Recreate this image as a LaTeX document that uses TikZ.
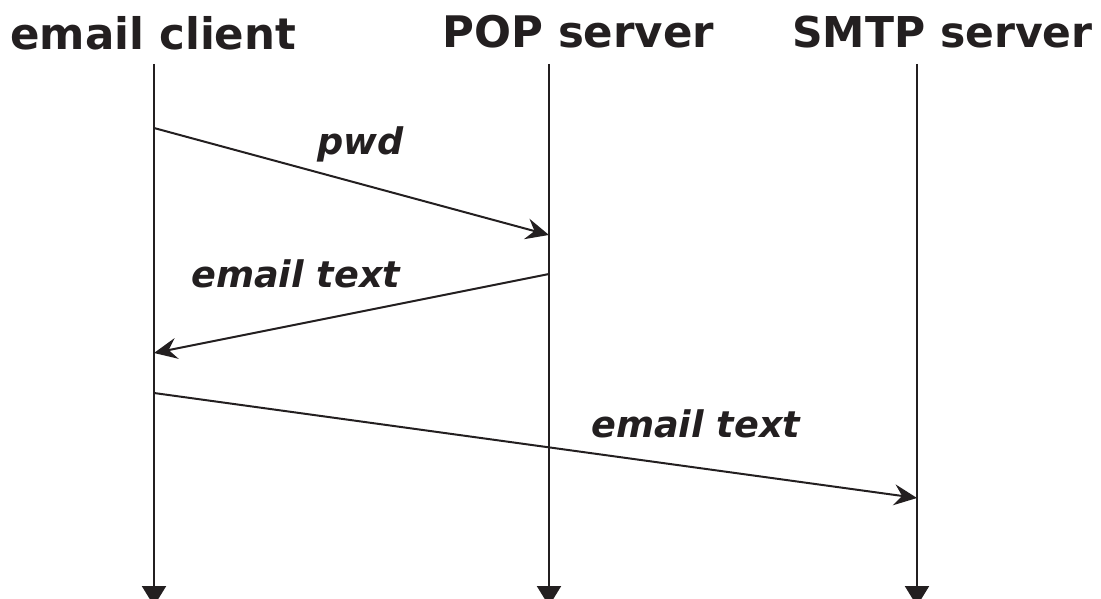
\documentclass[tikz,border=0pt]{standalone}
\usepackage{fontspec}
\setmainfont{DejaVu Sans}
\usetikzlibrary{arrows.meta}
\definecolor{ink}{HTML}{231F20}
\begin{document}
\begin{tikzpicture}[x=1pt,y=-1pt,
  title/.style={anchor=base west,inner sep=0pt,text=ink,font=\fontsize{43.5}{50}\selectfont\bfseries},
  msglabel/.style={anchor=base west,inner sep=0pt,text=ink,font=\fontsize{36.6}{42}\selectfont\bfseries\itshape},
  lifeline/.style={draw=ink,line width=2.2pt,-{Triangle[width=24pt,length=20pt]}},
  msg/.style={draw=ink,line width=2pt,-{Stealth[length=23pt,width=21pt,inset=8pt]}}]
\useasboundingbox (0,0) rectangle (1101,599);
% titles
\node[title] (tclient) at (10,50) {email client};
\node[title] (tpop) at (442,48) {POP server};
\node[title,font=\fontsize{42.5}{50}\selectfont\bfseries] (tsmtp) at (792,48) {SMTP server};
% lifeline ends
\coordinate (ctop) at (154,64);
\coordinate (cbot) at (154,606);
\coordinate (ptop) at (549,64);
\coordinate (pbot) at (549,606);
\coordinate (stop) at (917,64);
\coordinate (sbot) at (917,606);
\draw[lifeline] (ctop) -- (cbot);
\draw[lifeline] (ptop) -- (pbot);
\draw[lifeline] (stop) -- (sbot);
% message endpoints
\coordinate (m1s) at (154,128);
\coordinate (m1e) at (549,235);
\coordinate (m2s) at (549,274);
\coordinate (m2e) at (154,353);
\coordinate (m3s) at (154,393);
\coordinate (m3e) at (917,498);
\draw[msg] (m1s) -- (m1e);
\draw[msg] (m2s) -- (m2e);
\draw[msg] (m3s) -- (m3e);
% labels
\node[msglabel] (l1) at (317,155) {pwd};
\node[msglabel] (l2) at (191,287) {email text};
\node[msglabel] (l3) at (591,437) {email text};
\end{tikzpicture}
\end{document}
